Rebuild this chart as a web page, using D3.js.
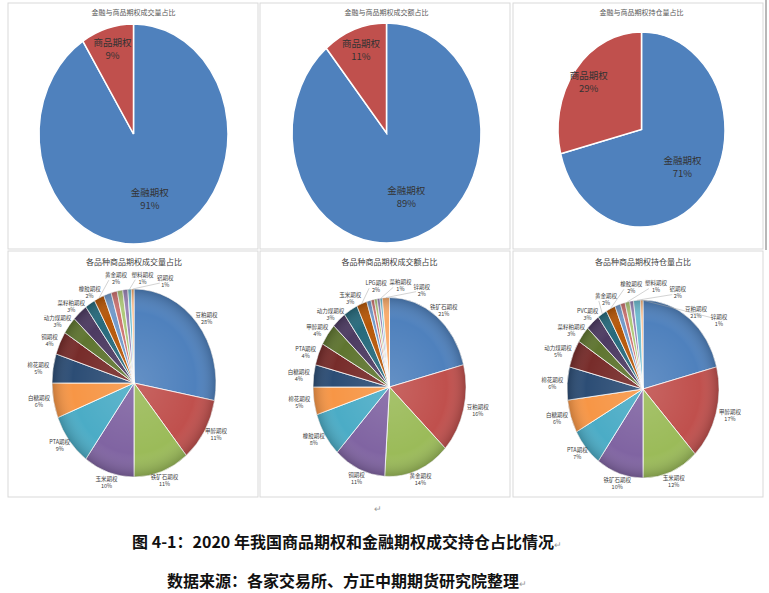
<!DOCTYPE html>
<html>
<head>
<meta charset="utf-8">
<script src="https://cdn.jsdelivr.net/npm/d3@7"></script>
<style>
body { margin: 0; background: #fff; }
text { font-family: "Noto Sans CJK SC", "Noto Sans", sans-serif; }
</style>
</head>
<body>
<script>
// finance vs commodity options
var shareCats = ["金融期权", "商品期权"];
var volShare = [91, 9];
var amtShare = [89, 11];
var oiShare = [71, 29];

// commodity options by product (%)
var volNames = ["豆粕期权","甲醇期权","铁矿石期权","玉米期权","PTA期权","白糖期权","棉花期权","铜期权","动力煤期权","菜籽粕期权","橡胶期权","黄金期权","LPG期权","PP期权","PVC期权","锌期权","塑料期权","铝期权"];
var volValues = [28, 11, 11, 10, 9, 6, 5, 4, 3, 3, 2, 2, 1.5, 1.2, 1.1, 1.0, 0.7, 0.5];
var volLabeled = ["豆粕期权","甲醇期权","铁矿石期权","玉米期权","PTA期权","白糖期权","棉花期权","铜期权","动力煤期权","菜籽粕期权","橡胶期权","黄金期权","塑料期权","铝期权"];

var amtNames = ["铁矿石期权","豆粕期权","黄金期权","铜期权","橡胶期权","棉花期权","白糖期权","PTA期权","甲醇期权","动力煤期权","玉米期权","LPG期权","PP期权","塑料期权","PVC期权","铝期权","菜粕期权","锌期权"];
var amtValues = [21, 16, 14, 11, 8, 5, 4, 4, 4, 3, 3, 2.2, 0.9, 0.7, 0.6, 0.6, 0.5, 1.5];
var amtLabeled = ["铁矿石期权","豆粕期权","黄金期权","铜期权","橡胶期权","棉花期权","白糖期权","PTA期权","甲醇期权","动力煤期权","玉米期权","LPG期权","菜粕期权","锌期权"];

var oiNames = ["豆粕期权","甲醇期权","玉米期权","铁矿石期权","PTA期权","白糖期权","棉花期权","动力煤期权","菜籽粕期权","PVC期权","黄金期权","橡胶期权","LPG期权","PP期权","塑料期权","铜期权","铝期权","锌期权"];
var oiValues = [21, 17, 12, 10, 7, 6, 6, 5, 3, 3, 2, 2, 1.2, 1.0, 1.0, 0.8, 1.5, 0.5];
var oiLabeled = ["豆粕期权","甲醇期权","玉米期权","铁矿石期权","PTA期权","白糖期权","棉花期权","动力煤期权","菜籽粕期权","PVC期权","黄金期权","橡胶期权","塑料期权","铝期权","锌期权"];

var palette = ["#4F81BD","#C0504D","#9BBB59","#8064A2","#4BACC6","#F79646",
               "#2C4D75","#772C2A","#5F7530","#4D3B62","#276A7C","#B65708",
               "#729ACA","#CD7371","#AFC97A","#9983B5","#6FBDD1","#F9AB6B"];

var width = 769, height = 593;
var svg = d3.select("body").append("svg").attr("width", width).attr("height", height);

var defs = svg.append("defs");
var shade = defs.append("radialGradient").attr("id", "shade");
shade.append("stop").attr("offset", "0%").attr("stop-color", "#fff").attr("stop-opacity", 0.12);
shade.append("stop").attr("offset", "75%").attr("stop-color", "#fff").attr("stop-opacity", 0);
shade.append("stop").attr("offset", "100%").attr("stop-color", "#000").attr("stop-opacity", 0.2);

// panel frames
var frames = [[8,3],[260,3],[513,3],[8,251],[260,251],[513,251]];
svg.selectAll("rect.frame").data(frames).enter().append("rect")
  .attr("class", "frame")
  .attr("x", function(d){ return d[0]; }).attr("y", function(d){ return d[1]; })
  .attr("width", 250).attr("height", 246)
  .attr("fill", "none").attr("stroke", "#d9d9d9");
svg.append("line").attr("x1", 766).attr("x2", 766).attr("y1", 0).attr("y2", 250)
  .attr("stroke", "#a0a0a0").attr("stroke-width", 1.5);

var pie = d3.pie().sort(null).value(function(d){ return d.value; });
var arc = d3.arc().innerRadius(0).outerRadius(100);

function textWidth(s, fs) {
  var w = 0;
  for (var i = 0; i < s.length; i++) w += /[\u3000-\u9fff\uff00-\uffef]/.test(s[i]) ? fs : fs * 0.6;
  return w;
}

// top row: finance vs commodity
function drawShare(p) {
  var data = shareCats.map(function(c, i){ return {name: c, value: p.values[i]}; });
  var arcs = pie(data);
  var total = d3.sum(p.values);
  svg.append("text").attr("x", p.cx).attr("y", 15).attr("text-anchor", "middle")
    .attr("font-size", 7).attr("fill", "#595959").text(p.title);
  var g = svg.append("g").attr("transform", "translate(" + p.cx + "," + p.cy + ") scale(" + (p.rx/100) + "," + (p.ry/100) + ")");
  g.selectAll("path").data(arcs).enter().append("path")
    .attr("d", arc)
    .attr("fill", function(d, i){ return palette[i]; })
    .attr("stroke", "#fff").attr("stroke-width", 1.5)
    .attr("vector-effect", "non-scaling-stroke");
  arcs.forEach(function(d){
    var a = (d.startAngle + d.endAngle) / 2;
    var k = d.value / total > 0.5 ? 0.62 : 0.8;
    var x = p.cx + p.rx * k * Math.sin(a), y = p.cy - p.ry * k * Math.cos(a);
    svg.append("text").attr("x", x).attr("y", y - 3).attr("text-anchor", "middle")
      .attr("font-size", 9.5).attr("fill", "#333").text(d.data.name);
    svg.append("text").attr("x", x).attr("y", y + 10).attr("text-anchor", "middle")
      .attr("font-size", 9.5).attr("fill", "#333").text(Math.round(d.value / total * 100) + "%");
  });
}

drawShare({title: "金融与商品期权成交量占比", values: volShare, cx: 133.5, cy: 134, rx: 94.5, ry: 110});
drawShare({title: "金融与商品期权成交额占比", values: amtShare, cx: 386.5, cy: 133, rx: 94.5, ry: 110});
drawShare({title: "金融与商品期权持仓量占比", values: oiShare, cx: 641.5, cy: 129.5, rx: 83.5, ry: 97.5});

// bottom row: per product
function drawProducts(p) {
  var data = p.names.map(function(n, i){ return {name: n, value: p.values[i]}; });
  var arcs = pie(data);
  var total = d3.sum(p.values);
  svg.append("text").attr("x", p.cx).attr("y", 265).attr("text-anchor", "middle")
    .attr("font-size", 8).attr("fill", "#404040").text(p.title);
  var g = svg.append("g").attr("transform", "translate(" + p.cx + "," + p.cy + ") scale(" + (p.rx/100) + "," + (p.ry/100) + ")");
  g.selectAll("path").data(arcs).enter().append("path")
    .attr("d", arc)
    .attr("fill", function(d, i){ return palette[i]; })
    .attr("stroke", "#fff").attr("stroke-width", 0.8)
    .attr("vector-effect", "non-scaling-stroke");
  g.append("circle").attr("r", 100).attr("fill", "url(#shade)");

  var fs = 5.5, hh = 7, pad = 3;
  var placed = [];
  arcs.filter(function(d){ return p.labeled.indexOf(d.data.name) >= 0; }).forEach(function(d){
    var a0 = (d.startAngle + d.endAngle) / 2;
    var pct = Math.round(d.value / total * 100) + "%";
    var hw = Math.max(textWidth(d.data.name, fs), textWidth(pct, fs)) / 2 + 1;
    function at(a, step) {
      var s = Math.sin(a), c = Math.cos(a), e = pad + step * 0.4;
      return {x: p.cx + (p.rx + e + hw * Math.abs(s)) * s, y: p.cy - (p.ry + e + hh * Math.abs(c)) * c};
    }
    function hits(q) {
      return placed.some(function(o){ return Math.abs(o.x - q.x) < o.hw + hw && Math.abs(o.y - q.y) < hh + hh; });
    }
    var step = 0, pos = at(a0, 0);
    while (hits(pos) && step < 80) { step++; pos = at(a0 + step * 0.03, step); }
    placed.push({x: pos.x, y: pos.y, hw: hw});
    if (step > 2) {
      var ex = p.cx + p.rx * Math.sin(a0), ey = p.cy - p.ry * Math.cos(a0);
      var tx = pos.x + (ex < pos.x ? -hw : hw) * 0.6, ty = pos.y + (ey > pos.y ? hh : -hh) * 0.3;
      svg.append("line").attr("x1", ex).attr("y1", ey).attr("x2", tx).attr("y2", ty)
        .attr("stroke", "#a6a6a6").attr("stroke-width", 0.5);
    }
    svg.append("text").attr("x", pos.x).attr("y", pos.y - 1).attr("text-anchor", "middle")
      .attr("font-size", fs).attr("fill", "#404040").text(d.data.name);
    svg.append("text").attr("x", pos.x).attr("y", pos.y + 6).attr("text-anchor", "middle")
      .attr("font-size", fs).attr("fill", "#404040").text(pct);
  });
}

drawProducts({title: "各品种商品期权成交量占比", names: volNames, values: volValues, labeled: volLabeled, cx: 134, cy: 383, rx: 82, ry: 94});
drawProducts({title: "各品种商品期权成交额占比", names: amtNames, values: amtValues, labeled: amtLabeled, cx: 389.5, cy: 387, rx: 76.5, ry: 89.5});
drawProducts({title: "各品种商品期权持仓量占比", names: oiNames, values: oiValues, labeled: oiLabeled, cx: 643, cy: 389, rx: 76, ry: 89});

// caption
svg.append("text").attr("x", 374).attr("y", 512).attr("font-size", 9).attr("fill", "#999").text("↵");
var cap1 = svg.append("text").attr("x", 347).attr("y", 548).attr("text-anchor", "middle")
  .attr("font-size", 16).attr("font-weight", "bold").attr("fill", "#111");
cap1.append("tspan").text("图 4-1：2020 年我国商品期权和金融期权成交持仓占比情况");
cap1.append("tspan").attr("font-size", 9).attr("font-weight", "normal").attr("fill", "#999").text("↵");
var cap2 = svg.append("text").attr("x", 347).attr("y", 587).attr("text-anchor", "middle")
  .attr("font-size", 16).attr("font-weight", "bold").attr("fill", "#111");
cap2.append("tspan").text("数据来源：各家交易所、方正中期期货研究院整理");
cap2.append("tspan").attr("font-size", 9).attr("font-weight", "normal").attr("fill", "#999").text("↵");
</script>
</body>
</html>
